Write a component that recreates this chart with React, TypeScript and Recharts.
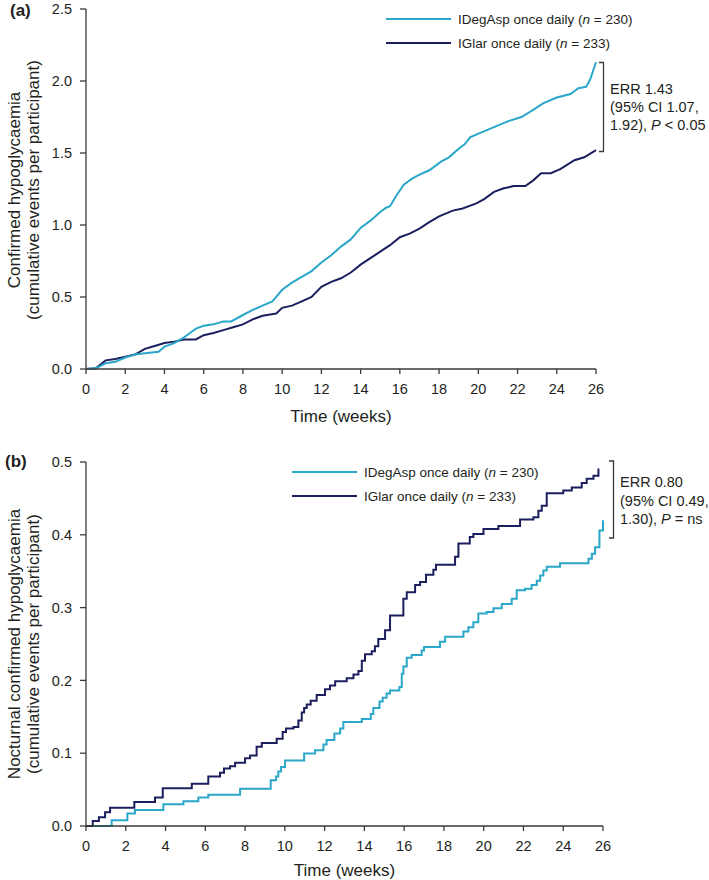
import React from 'react';
import { LineChart, Line, XAxis, YAxis, Legend } from 'recharts';

// ---------- shared labels ----------
const xTicks = [0, 2, 4, 6, 8, 10, 12, 14, 16, 18, 20, 22, 24, 26];
const yTicksA = [0, 0.5, 1.0, 1.5, 2.0, 2.5];
const yTicksB = [0, 0.1, 0.2, 0.3, 0.4, 0.5];
const seriesNames = ['IDegAsp once daily', 'IGlar once daily'];
const seriesN = [230, 233];

// ---------- panel (a): confirmed hypoglycaemia ----------
const aIDegWeeks = [0, 0.5, 1, 1.5, 2, 2.5, 3, 3.7, 4, 4.5, 5, 5.3, 5.6, 6, 6.5, 7, 7.4, 8, 8.5, 9, 9.5, 10, 10.5, 11, 11.5, 12, 12.5, 13, 13.5, 14, 14.5, 15, 15.3, 15.5, 15.8, 16.2, 16.6, 17.0, 17.5, 18.1, 18.5, 19.0, 19.3, 19.6, 20.1, 20.8, 21.5, 22.2, 22.8, 23.3, 24.0, 24.7, 25.1, 25.5, 25.7, 26];
const aIDegValues = [0, 0.005, 0.04, 0.05, 0.08, 0.1, 0.11, 0.12, 0.155, 0.18, 0.22, 0.25, 0.28, 0.30, 0.31, 0.33, 0.33, 0.375, 0.41, 0.44, 0.47, 0.55, 0.6, 0.64, 0.68, 0.74, 0.79, 0.85, 0.9, 0.98, 1.03, 1.09, 1.12, 1.13, 1.2, 1.28, 1.32, 1.35, 1.38, 1.44, 1.47, 1.53, 1.56, 1.61, 1.64, 1.68, 1.72, 1.75, 1.80, 1.845, 1.885, 1.91, 1.95, 1.96, 2.01, 2.13];

const aIGlarWeeks = [0, 0.5, 1, 1.5, 2, 2.5, 3, 3.5, 4, 4.5, 5, 5.6, 6, 6.5, 7, 7.5, 8, 8.5, 9, 9.7, 10, 10.5, 11, 11.5, 12, 12.5, 13, 13.5, 14, 14.5, 15, 15.5, 16, 16.5, 17, 17.5, 18, 18.7, 19.2, 19.9, 20.3, 20.8, 21.3, 21.8, 22.4, 22.8, 23.2, 23.7, 24.2, 24.9, 25.4, 26];
const aIGlarValues = [0, 0.005, 0.06, 0.07, 0.085, 0.1, 0.14, 0.16, 0.18, 0.19, 0.205, 0.205, 0.235, 0.25, 0.27, 0.29, 0.31, 0.345, 0.37, 0.385, 0.425, 0.44, 0.47, 0.5, 0.57, 0.605, 0.63, 0.67, 0.725, 0.77, 0.815, 0.86, 0.915, 0.94, 0.975, 1.02, 1.06, 1.1, 1.115, 1.15, 1.18, 1.23, 1.255, 1.27, 1.27, 1.31, 1.36, 1.36, 1.39, 1.45, 1.47, 1.52];

// ---------- panel (b): nocturnal confirmed hypoglycaemia ----------
const bIDegWeeks = [0, 1.29, 2.08, 2.46, 3.89, 4.9, 5.65, 6.15, 7.75, 9.29, 9.56, 9.67, 9.81, 10.01, 10.97, 11.52, 11.94, 12.1, 12.49, 12.78, 12.94, 13.87, 14.32, 14.45, 14.76, 14.92, 15.12, 15.29, 15.76, 15.88, 15.96, 16.13, 16.38, 16.88, 17.0, 17.8, 18.06, 18.98, 19.23, 19.48, 19.73, 20.15, 20.49, 20.91, 21.41, 21.66, 22.08, 22.41, 22.67, 22.84, 23.0, 23.17, 23.84, 25.27, 25.44, 25.6, 25.82, 26.0];
const bIDegValues = [0, 0.008, 0.017, 0.022, 0.03, 0.034, 0.039, 0.043, 0.051, 0.063, 0.068, 0.075, 0.081, 0.09, 0.0995, 0.104, 0.112, 0.118, 0.127, 0.134, 0.143, 0.147, 0.154, 0.162, 0.171, 0.176, 0.182, 0.186, 0.191, 0.209, 0.219, 0.231, 0.235, 0.241, 0.246, 0.253, 0.26, 0.267, 0.273, 0.28, 0.292, 0.294, 0.299, 0.305, 0.312, 0.324, 0.326, 0.331, 0.337, 0.344, 0.351, 0.356, 0.361, 0.367, 0.374, 0.383, 0.406, 0.42];

const bIGlarWeeks = [0, 0.34, 0.65, 0.96, 1.21, 2.43, 3.47, 3.86, 5.32, 6.15, 6.74, 6.94, 7.24, 7.5, 8.0, 8.25, 8.58, 8.84, 9.59, 9.89, 10.06, 10.43, 10.68, 10.85, 10.97, 11.1, 11.3, 11.6, 12.02, 12.27, 12.53, 13.11, 13.45, 13.7, 13.87, 14.03, 14.37, 14.53, 14.7, 15.04, 15.29, 15.96, 16.13, 16.55, 16.8, 17.1, 17.47, 17.6, 18.56, 18.73, 19.3, 19.48, 19.99, 20.74, 21.83, 22.5, 22.75, 22.92, 23.17, 24.0, 24.43, 24.93, 25.18, 25.52, 25.77];
const bIGlarValues = [0, 0.007, 0.012, 0.019, 0.025, 0.033, 0.039, 0.052, 0.058, 0.068, 0.073, 0.079, 0.082, 0.087, 0.093, 0.097, 0.109, 0.114, 0.12, 0.129, 0.134, 0.136, 0.145, 0.156, 0.162, 0.167, 0.172, 0.18, 0.188, 0.193, 0.199, 0.203, 0.208, 0.213, 0.227, 0.236, 0.24, 0.247, 0.257, 0.269, 0.289, 0.312, 0.321, 0.331, 0.335, 0.345, 0.352, 0.359, 0.37, 0.388, 0.397, 0.401, 0.408, 0.412, 0.421, 0.424, 0.433, 0.44, 0.457, 0.461, 0.465, 0.471, 0.477, 0.481, 0.491];

// ---------- styling ----------
const FONT = '"Liberation Sans", Arial, Helvetica, sans-serif';
const LIGHT = '#2aa7c9';
const DARK = '#1c1f5e';
const TEXT = '#231f20';
const AXIS = '#3a3a3a';
const colors = [LIGHT, DARK];

const toPoints = (xs: number[], ys: number[]) => xs.map((x, i) => ({ x, y: ys[i] }));

const aIDeg = toPoints(aIDegWeeks, aIDegValues);
const aIGlar = toPoints(aIGlarWeeks, aIGlarValues);
const bIDeg = toPoints(bIDegWeeks, bIDegValues);
const bIGlar = toPoints(bIGlarWeeks, bIGlarValues);

const LegendBox = () => (
  <div style={{ fontFamily: FONT, fontSize: 13.5, color: TEXT }}>
    {seriesNames.map((name, i) => (
      <div key={name} style={{ display: 'flex', alignItems: 'center', height: 24 }}>
        <svg width={65} height={4} style={{ marginRight: 7, display: 'block' }}>
          <line x1={0} y1={2} x2={65} y2={2} stroke={colors[i]} strokeWidth={2} />
        </svg>
        <span style={{ whiteSpace: 'nowrap' }}>
          {name} (<i>n</i> = {seriesN[i]})
        </span>
      </div>
    ))}
  </div>
);

const tickStyle = { fill: TEXT, fontSize: 14.5, fontFamily: FONT };

export default function App() {
  return (
    <div style={{ position: 'absolute', left: 0, top: 0, width: 709, height: 880, background: '#fff', overflow: 'hidden' }}>
      {/* Panel (a) */}
      <div style={{ position: 'absolute', left: 0, top: 0 }}>
        <LineChart width={709} height={440} margin={{ top: 9, right: 113, bottom: 31, left: 26 }}>
          <XAxis
            type="number"
            dataKey="x"
            domain={[0, 26]}
            ticks={xTicks}
            interval={0}
            height={40}
            tickSize={5}
            tickMargin={10}
            tick={tickStyle}
            axisLine={{ stroke: AXIS, strokeWidth: 1.3 }}
            tickLine={{ stroke: AXIS, strokeWidth: 1.3 }}
            label={{ value: 'Time (weeks)', position: 'bottom', offset: 1, fill: TEXT, fontSize: 17, fontFamily: FONT }}
          />
          <YAxis
            type="number"
            domain={[0, 2.5]}
            ticks={yTicksA}
            interval={0}
            width={60}
            tickSize={6}
            tickMargin={8}
            tick={tickStyle}
            tickFormatter={(v: number) => v.toFixed(1)}
            axisLine={{ stroke: AXIS, strokeWidth: 1.3 }}
            tickLine={{ stroke: AXIS, strokeWidth: 1.3 }}
          />
          <Legend
            layout="vertical"
            align="center"
            verticalAlign="middle"
            content={() => <LegendBox />}
            wrapperStyle={{ left: 386, top: 7, width: 320 }}
          />
          <Line data={aIGlar} dataKey="y" name={seriesNames[1]} type="linear" stroke={DARK} strokeWidth={2} dot={false} isAnimationActive={false} />
          <Line data={aIDeg} dataKey="y" name={seriesNames[0]} type="linear" stroke={LIGHT} strokeWidth={2} dot={false} isAnimationActive={false} />
        </LineChart>
      </div>

      {/* Panel (b) */}
      <div style={{ position: 'absolute', left: 0, top: 440 }}>
        <LineChart width={709} height={440} margin={{ top: 22, right: 106, bottom: 14, left: 26 }}>
          <XAxis
            type="number"
            dataKey="x"
            domain={[0, 26]}
            ticks={xTicks}
            interval={0}
            height={40}
            tickSize={5}
            tickMargin={10}
            tick={tickStyle}
            axisLine={{ stroke: AXIS, strokeWidth: 1.3 }}
            tickLine={{ stroke: AXIS, strokeWidth: 1.3 }}
            label={{ value: 'Time (weeks)', position: 'bottom', offset: -2, fill: TEXT, fontSize: 17, fontFamily: FONT }}
          />
          <YAxis
            type="number"
            domain={[0, 0.5]}
            ticks={yTicksB}
            interval={0}
            width={60}
            tickSize={6}
            tickMargin={8}
            tick={tickStyle}
            tickFormatter={(v: number) => v.toFixed(1)}
            axisLine={{ stroke: AXIS, strokeWidth: 1.3 }}
            tickLine={{ stroke: AXIS, strokeWidth: 1.3 }}
          />
          <Legend
            layout="vertical"
            align="center"
            verticalAlign="middle"
            content={() => <LegendBox />}
            wrapperStyle={{ left: 292, top: 20, width: 320 }}
          />
          <Line data={bIDeg} dataKey="y" name={seriesNames[0]} type="stepAfter" stroke={LIGHT} strokeWidth={2} dot={false} isAnimationActive={false} />
          <Line data={bIGlar} dataKey="y" name={seriesNames[1]} type="stepAfter" stroke={DARK} strokeWidth={2} dot={false} isAnimationActive={false} />
        </LineChart>
      </div>

      {/* Annotations overlay */}
      <svg width={709} height={880} style={{ position: 'absolute', left: 0, top: 0, pointerEvents: 'none' }} fontFamily={FONT} fill={TEXT}>
        <text x={10} y={16} fontSize={17} fontWeight="bold">(a)</text>
        <text x={5} y={467} fontSize={17} fontWeight="bold">(b)</text>

        <g fontSize={17} textAnchor="middle">
          <text transform="translate(14,190) rotate(-90)" dominantBaseline="central">Confirmed hypoglycaemia</text>
          <text transform="translate(33,190) rotate(-90)" dominantBaseline="central">(cumulative events per participant)</text>
          <text transform="translate(14,644) rotate(-90)" dominantBaseline="central">Nocturnal confirmed hypoglycaemia</text>
          <text transform="translate(33,644) rotate(-90)" dominantBaseline="central">(cumulative events per participant)</text>
        </g>

        <path d="M599 62.5 H603.5 V151.5 H599" stroke={AXIS} strokeWidth={1.3} fill="none" />
        <g fontSize={14.5}>
          <text x={610} y={93.5}>ERR 1.43</text>
          <text x={610} y={112}>(95% CI 1.07,</text>
          <text x={610} y={130}>1.92), <tspan fontStyle="italic">P</tspan> &lt; 0.05</text>
        </g>

        <path d="M609 461 H613.5 V538 H609" stroke={AXIS} strokeWidth={1.3} fill="none" />
        <g fontSize={14.5}>
          <text x={620} y={487}>ERR 0.80</text>
          <text x={620} y={505.5}>(95% CI 0.49,</text>
          <text x={620} y={524}>1.30), <tspan fontStyle="italic">P</tspan> = ns</text>
        </g>
      </svg>
    </div>
  );
}
